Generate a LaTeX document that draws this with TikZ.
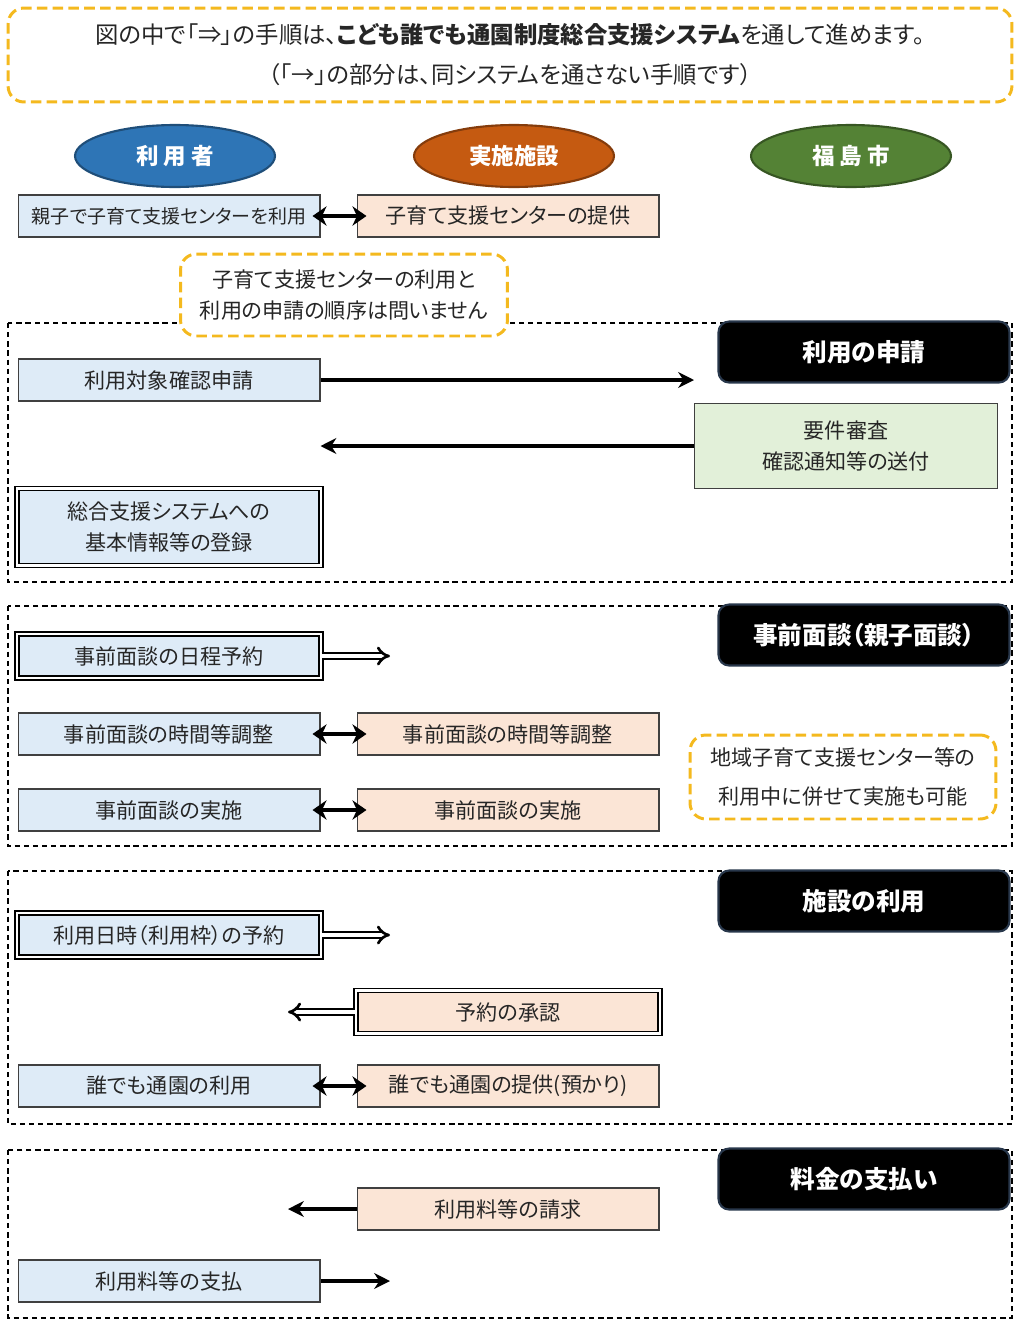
\documentclass[tikz,border=0pt]{standalone}
\usepackage{fontspec}
\setmainfont{Noto Sans CJK JP}[RawFeature=+palt]
\usetikzlibrary{arrows.meta,shapes.geometric}
\definecolor{userfill}{RGB}{222,235,247}
\definecolor{shisetsufill}{RGB}{251,229,214}
\definecolor{shifill}{RGB}{226,240,217}
\definecolor{userblue}{RGB}{46,117,182}
\definecolor{userline}{RGB}{31,78,121}
\definecolor{shisetsuor}{RGB}{197,90,17}
\definecolor{shisetsuline}{RGB}{132,60,12}
\definecolor{shigreen}{RGB}{84,130,53}
\definecolor{shiline}{RGB}{55,86,35}
\definecolor{noteyellow}{RGB}{244,185,30}
\definecolor{headline}{RGB}{40,55,75}
\begin{document}
\begin{tikzpicture}[x=0.02cm,y=-0.02cm]
	\tikzstyle{Box} = [rectangle, minimum width=6.04cm, minimum height=0.84cm, text centered, align=center, draw=black!75, line width=0.6pt, text=black!85, font=\fontsize{12pt}{18pt}\selectfont]
	\tikzstyle{User} = [Box, fill=userfill]
	\tikzstyle{Shisetsu} = [Box, fill=shisetsufill]
	\tikzstyle{Dbl} = [draw=black, double, double distance=1.4pt, line width=0.8pt]
	\tikzstyle{Actor} = [ellipse, minimum width=4cm, minimum height=1.24cm, inner sep=0pt, line width=1.2pt, text=white, font=\fontsize{12.8pt}{14pt}\selectfont\bfseries]
	\tikzstyle{Head} = [rectangle, rounded corners=6pt, minimum width=5.82cm, minimum height=1.22cm, fill=black, draw=headline, line width=1.2pt, text=white, font=\fontsize{14pt}{16pt}\selectfont\bfseries]
	\tikzstyle{Note} = [rectangle, rounded corners=9pt, draw=noteyellow, line width=1.7pt, dash pattern=on 6pt off 3pt, align=center, text=black!85]
	\tikzstyle{Frame} = [black, line width=1.1pt, dash pattern=on 3pt off 2.2pt]
	\tikzstyle{arrow} = [line width=2.2pt, -{Stealth[length=9pt,width=9pt]}]
	\tikzstyle{both} = [line width=2.6pt, {Stealth[length=8pt,width=11pt]}-{Stealth[length=8pt,width=11pt]}]
	\tikzstyle{sys} = [double, double distance=2pt, line width=1.5pt, -{Implies[scale=1.3]}]
	
	\useasboundingbox (0,0) rectangle (1017,1325);
	
	\node (top) [Note, minimum width=20.08cm, minimum height=1.88cm, font=\fontsize{13.3pt}{22.8pt}\selectfont] at (510,55)
	{図の中で「⇒」の手順は、\textbf{こども誰でも通園制度総合支援システム}を通して進めます。\\（「→」の部分は、同システムを通さない手順です）};
	
	\node (riyousha) [Actor, fill=userblue, draw=userline] at (175,156) {利 用 者};
	\node (shisetsu) [Actor, fill=shisetsuor, draw=shisetsuline] at (514,156) {実施施設};
	\node (shi) [Actor, fill=shigreen, draw=shiline] at (851,156) {福 島 市};
	
	\node (a0) [User, font=\fontsize{10.8pt}{16pt}\selectfont] at (169,216) {親子で子育て支援センターを利用};
	\node (b0) [Shisetsu] at (508,216) {子育て支援センターの提供};
	\draw [both] ([xshift=-0.16cm]a0.east) -- ([xshift=0.2cm]b0.west);
	
	\draw [Frame] (8,323) rectangle (1012,582);
	\draw [Frame] (8,606) rectangle (1012,846);
	\draw [Frame] (8,871) rectangle (1012,1124);
	\draw [Frame] (8,1150) rectangle (1012,1318);
	
	\node (note1) [Note, fill=white, minimum width=6.54cm, minimum height=1.64cm, font=\fontsize{12pt}{17.6pt}\selectfont] at (344,295)
	{子育て支援センターの利用と\\利用の申請の順序は問いません};
	
	\node (h1) [Head] at (864,352) {利用の申請};
	\node (a1) [User] at (169,380) {利用対象確認申請};
	\node (c1) [Box, fill=shifill, minimum width=6.06cm, minimum height=1.7cm] at (846,446) {要件審査\\確認通知等の送付};
	\node (a2) [User, Dbl, minimum width=6.08cm, minimum height=1.54cm] at (169,527) {総合支援システムへの\\基本情報等の登録};
	\draw [arrow] (a1.east) -- (a1.east -| c1.west);
	\draw [arrow] (c1.west) -- (c1.west -| a1.east);
	
	\node (h2) [Head] at (864,635) {事前面談（親子面談）};
	\node (a3) [User, Dbl, minimum width=6.08cm, minimum height=0.88cm] at (169,656) {事前面談の日程予約};
	\coordinate (p3) at (390,656);
	\draw [sys] (a3.east) -- (p3);
	\node (a4) [User] at (169,734) {事前面談の時間等調整};
	\node (b4) [Shisetsu] at (508,734) {事前面談の時間等調整};
	\draw [both] ([xshift=-0.16cm]a4.east) -- ([xshift=0.2cm]b4.west);
	\node (a5) [User] at (169,810) {事前面談の実施};
	\node (b5) [Shisetsu] at (508,810) {事前面談の実施};
	\draw [both] ([xshift=-0.16cm]a5.east) -- ([xshift=0.2cm]b5.west);
	\node (note2) [Note, minimum width=6.12cm, minimum height=1.68cm, font=\fontsize{12pt}{22pt}\selectfont] at (843,777)
	{地域子育て支援センター等の\\利用中に併せて実施も可能};
	
	\node (h3) [Head] at (864,901) {施設の利用};
	\node (a6) [User, Dbl, minimum width=6.08cm, minimum height=0.88cm] at (169,935) {利用日時（利用枠）の予約};
	\coordinate (p6) at (390,935);
	\draw [sys] (a6.east) -- (p6);
	\node (b7) [Shisetsu, Dbl, minimum width=6.08cm, minimum height=0.86cm] at (508,1012) {予約の承認};
	\coordinate (p7) at (288,1012);
	\draw [sys] (b7.west) -- (p7);
	\node (a8) [User] at (169,1086) {誰でも通園の利用};
	\node (b8) [Shisetsu] at (508,1086) {誰でも通園の提供(預かり)};
	\draw [both] ([xshift=-0.16cm]a8.east) -- ([xshift=0.2cm]b8.west);
	
	\node (h4) [Head] at (864,1179) {料金の支払い};
	\node (b9) [Shisetsu] at (508,1209) {利用料等の請求};
	\coordinate (p9) at (288,1209);
	\draw [arrow] (b9.west) -- (p9);
	\node (a10) [User] at (169,1281) {利用料等の支払};
	\coordinate (p10) at (390,1281);
	\draw [arrow] (a10.east) -- (p10);
\end{tikzpicture}
\end{document}
